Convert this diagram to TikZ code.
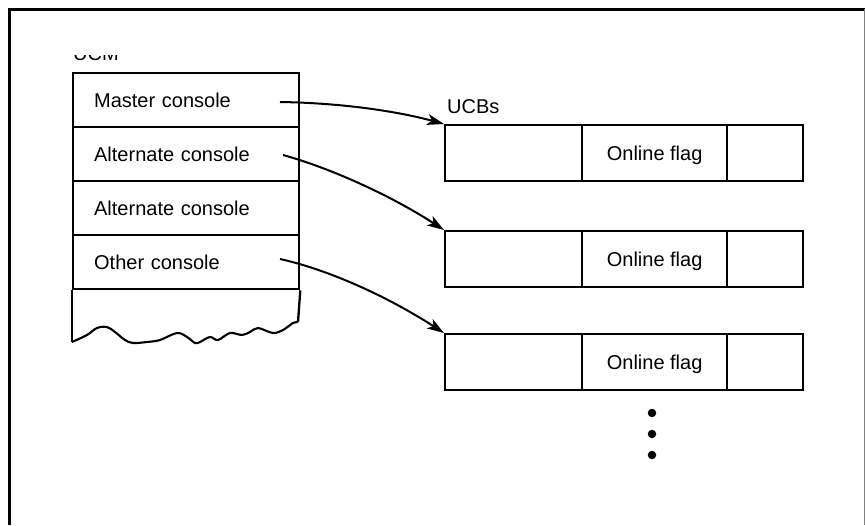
\documentclass[tikz,border=0pt]{standalone}
\usepackage{fontspec}
\setmainfont{Liberation Sans}
\usetikzlibrary{arrows.meta}
\begin{document}
\begin{tikzpicture}[x=1pt,y=-1pt,
  txt/.style={font=\fontsize{20}{24}\selectfont},
  rowcell/.style={txt, draw, line width=2.3pt, rectangle, anchor=north west,
    inner xsep=21pt, inner ysep=0pt, text width=184pt, align=left,
    minimum height=54pt, text height=14.4pt, text depth=0pt},
  ucbcell/.style={txt, draw, line width=2.3pt, rectangle, anchor=north west,
    inner sep=0pt, minimum height=56pt, text height=14.4pt, text depth=0pt},
  arr/.style={line width=2pt, -{Stealth[length=17pt,width=11pt,inset=4.5pt]}},
  dot/.style={circle, fill, inner sep=0pt, minimum size=8.5pt}
]
\useasboundingbox (0,0) rectangle (865,525);
% frame
\draw[line width=3pt] (9,525) -- (9,9) -- (866,9);
\draw[gray, line width=1pt] (864.5,9) -- (864.5,525);

% clipped UCM label
\begin{scope}
  \clip (60,55) rectangle (140,70);
  \node[txt, anchor=base west, inner sep=0pt] (ucm) at (73,60.5) {UCM};
\end{scope}

% left stack
\node[rowcell] (r1) at (72,72) {Master console};
\node[rowcell] (r2) at (72,126) {Alternate console};
\node[rowcell] (r3) at (72,180) {Alternate console};
\node[rowcell] (r4) at (72,234) {Other console};
\draw[line width=2.3pt] (r4.south west) -- (72,342);
\draw[line width=2.3pt] (r4.south east) -- (298,322);
\draw[line width=2.1pt] plot[smooth, tension=0.55] coordinates {
  (72,342) (87,335) (97,328) (107,327) (115,332) (125,340) (133,343)
  (147,342) (160,340) (177,333) (187,337) (195,343) (200,342) (210,337)
  (218,340) (230,333) (242,335) (250,332) (258,328) (273,333) (283,330)
  (293,323) (298,322)};

% UCBs
\node[txt, anchor=base west, inner sep=0pt] (ucbs) at (447,113) {UCBs};
\foreach \i/\y in {1/124, 2/230, 3/333} {
  \node[ucbcell, minimum width=137pt] (u\i a) at (444,\y) {};
  \node[ucbcell, minimum width=145pt] (u\i b) at (581,\y) {Online flag};
  \node[ucbcell, minimum width=76pt] (u\i c) at (726,\y) {};
}

% arrows
\coordinate (s1) at (280,102);
\coordinate (s2) at (283,155);
\coordinate (s3) at (280,259);
\draw[arr] (s1) .. controls (345,103) and (400,112) .. (u1a.north west);
\draw[arr] (s2) .. controls (330,168) and (390,195) .. (u2a.north west);
\draw[arr] (s3) .. controls (330,270) and (390,298) .. (u3a.north west);

% dots
\node[dot] (d1) at (652,413) {};
\node[dot] (d2) at (652,434) {};
\node[dot] (d3) at (652,455) {};
\end{tikzpicture}
\end{document}
